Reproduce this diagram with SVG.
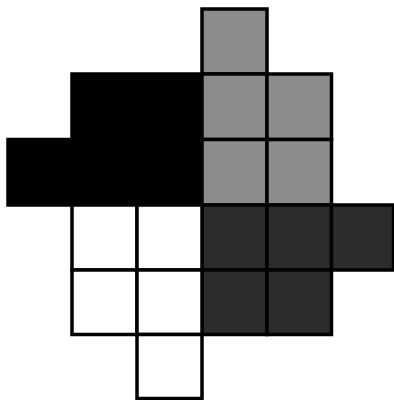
<svg xmlns="http://www.w3.org/2000/svg" width="394" height="400" viewBox="0 0 394 400">
<defs>
<style>
.c{stroke:#000;stroke-width:3.5;stroke-linejoin:miter}
.light{fill:#8c8c8c}
.dark{fill:#2c2c2c}
.black{fill:#000}
.white{fill:#fff}
</style>
</defs>
<rect width="394" height="400" fill="#fff"/>
<g id="black-piece">
<rect class="c black" x="72" y="74" width="130" height="131"/>
<rect class="c black" x="8" y="139.5" width="194" height="65.5"/>
</g>
<g id="light-piece">
<rect class="c light" x="202" y="9" width="65" height="65"/>
<rect class="c light" x="202" y="74" width="65" height="65.5"/>
<rect class="c light" x="267" y="74" width="64.5" height="65.5"/>
<rect class="c light" x="202" y="139.5" width="65" height="65.5"/>
<rect class="c light" x="267" y="139.5" width="64.5" height="65.5"/>
</g>
<g id="dark-piece">
<rect class="c dark" x="202" y="205" width="65" height="65"/>
<rect class="c dark" x="267" y="205" width="64.5" height="65"/>
<rect class="c dark" x="331.5" y="205" width="62" height="65"/>
<rect class="c dark" x="202" y="270" width="65" height="64.5"/>
<rect class="c dark" x="267" y="270" width="64.5" height="64.5"/>
</g>
<g id="white-piece">
<rect class="c white" x="72" y="205" width="65" height="65"/>
<rect class="c white" x="137" y="205" width="65" height="65"/>
<rect class="c white" x="72" y="270" width="65" height="64.5"/>
<rect class="c white" x="137" y="270" width="65" height="64.5"/>
<rect class="c white" x="137" y="334.5" width="65" height="64"/>
</g>
<g id="connectors"/>
</svg>
